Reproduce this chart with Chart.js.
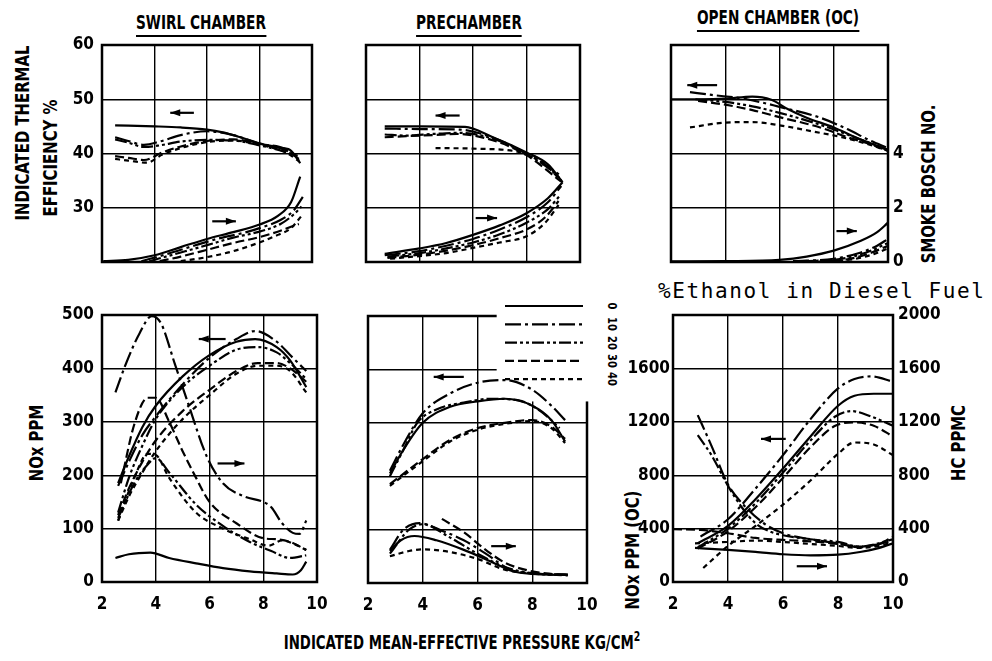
<!DOCTYPE html>
<html>
<head>
<meta charset="utf-8">
<script src="https://cdn.jsdelivr.net/npm/chart.js@4.4.1/dist/chart.umd.min.js"></script>
<style>
  body { margin: 0; background: #fff; width: 992px; height: 661px; position: relative; overflow: hidden;
         font-family: "Liberation Sans Narrow", "DejaVu Sans Condensed", sans-serif; font-weight: bold; color: #000; }
  canvas { position: absolute; }
  .t { position: absolute; white-space: nowrap; line-height: 1; }
  .c { transform: translateX(-50%) scaleX(0.8); }
  .r { transform: translate(-50%, -50%) rotate(-90deg) scaleX(0.87); }
  .r90 { transform: translate(-50%, -50%) rotate(90deg) scaleX(0.85); font-size: 13px; }
  .u { border-bottom: 2px solid #000; padding-bottom: 3px; }
</style>
</head>
<body>
<div class="t c u" style="left:201px;top:13px;font-size:19px">SWIRL CHAMBER</div>
<div class="t c u" style="left:469px;top:13px;font-size:19px">PRECHAMBER</div>
<div class="t c u" style="left:778px;top:8px;font-size:19px">OPEN CHAMBER (OC)</div>
<div class="t r" style="left:22px;top:133px;font-size:19px">INDICATED THERMAL</div>
<div class="t r" style="left:50px;top:158px;font-size:19px">EFFICIENCY %</div>
<div class="t r" style="left:928px;top:184px;font-size:19px">SMOKE BOSCH NO.</div>
<div class="t r" style="left:36px;top:443px;font-size:19px">NOx PPM</div>
<div class="t r" style="left:632px;top:550px;font-size:19px">NOx PPM (OC)</div>
<div class="t r" style="left:958px;top:443px;font-size:19px">HC PPMC</div>
<div class="t" style="left:658px;top:281px;font-family:'DejaVu Sans Mono',monospace;font-weight:normal;font-size:21px;letter-spacing:1.6px">%Ethanol in Diesel Fuel</div>
<div class="t c" style="left:462px;top:629px;font-size:20px;transform:translateX(-50%) scaleX(0.74)">INDICATED MEAN-EFFECTIVE PRESSURE KG/CM<sup style="font-size:14px">2</sup></div>
<div id="legendLabels"></div>

<script>
// ethanol share of each curve, in legend order
const ethanol = [0, 10, 20, 30, 40];

// SWIRL CHAMBER, top: efficiency (%) and smoke (Bosch no.)
const swirlEff = [
  [[2.5,45.2],[4,45.0],[5,44.8],[6,44.4],[6.6,43.9],[7.2,43.1],[8,41.9],[8.6,41.1],[9.1,40.8],[9.35,39.7],[9.55,38.2]],
  [[2.5,43.0],[3,42.3],[3.6,41.6],[4.2,42.2],[5,43.4],[6,44.1],[7,43.4],[8,41.8],[9,40.8],[9.5,38.8]],
  [[2.5,42.6],[3,42.0],[3.6,41.2],[4.2,41.5],[5,42.2],[6,42.5],[7,42.4],[8,41.5],[9,40.3],[9.5,39.5]],
  [[2.5,39.5],[3,39.2],[3.6,38.8],[4.3,40.2],[5,41.3],[6,42.3],[7,42.6],[8,41.8],[9,40.6],[9.5,39.0]],
  [[2.5,39.0],[3,38.7],[3.7,38.3],[4.3,39.8],[5,41.0],[6,42.1],[7,42.4],[8,41.6],[9,40.2],[9.5,38.6]]
];
const swirlSmoke = [
  [[2.05,0.03],[3,0.08],[4,0.25],[5,0.55],[6,0.85],[7,1.1],[8,1.38],[8.7,1.7],[9.2,2.2],[9.55,3.15]],
  [[3.5,0.03],[4.5,0.3],[5.5,0.6],[6.5,0.88],[7.5,1.1],[8,1.25],[8.8,1.55],[9.3,1.9],[9.65,2.4]],
  [[3.8,0.03],[5,0.35],[6,0.62],[7,0.9],[8,1.12],[8.8,1.4],[9.3,1.75],[9.6,2.05]],
  [[4.2,0.03],[5,0.2],[6,0.45],[7,0.7],[8,0.92],[8.8,1.15],[9.2,1.3],[9.5,1.4]],
  [[5,0.03],[6,0.18],[7,0.4],[8,0.72],[8.7,1.0],[9.2,1.25],[9.6,1.7]]
];

// PRECHAMBER, top
const preEff = [
  [[2.7,45.0],[4,45.0],[5.7,44.9],[6.7,43.1],[8,40.2],[8.8,38.0],[9.35,34.7]],
  [[2.7,44.6],[4,44.5],[5.5,44.4],[6.7,43.0],[8,40.0],[8.8,37.6],[9.3,35.8]],
  [[2.7,43.5],[3.5,43.3],[4.5,43.6],[5.5,43.8],[6.7,42.8],[8,39.9],[8.9,37.0],[9.3,35.2]],
  [[2.7,43.0],[3.5,43.2],[4.5,43.4],[5.4,43.6],[6.7,42.5],[8,39.7],[9.3,34.8]],
  [[4.6,41.0],[6,40.9],[7.6,40.4],[8.4,39.2],[9.3,35.0]]
];
const preSmoke = [
  [[2.7,0.3],[4,0.5],[5,0.7],[6,1.0],[7,1.35],[8,1.8],[8.8,2.35],[9.35,2.94]],
  [[2.7,0.25],[4,0.4],[5,0.6],[6,0.85],[7,1.2],[8,1.65],[8.8,2.2],[9.3,2.8]],
  [[2.8,0.2],[4,0.33],[5,0.5],[6,0.72],[7,1.02],[8,1.45],[8.8,1.95],[9.25,2.45]],
  [[2.8,0.15],[4,0.27],[5,0.42],[6,0.62],[7,0.88],[8,1.2],[8.7,1.65],[9.2,2.25]],
  [[2.9,0.12],[4,0.22],[5,0.33],[6,0.52],[7,0.72],[8,0.95],[8.7,1.45],[9.2,2.1]]
];

// OPEN CHAMBER (OC), top
const ocEff = [
  [[2,50.0],[3,50.0],[4,50.1],[5,50.5],[5.7,49.9],[6.3,48.2],[7,46.6],[8,44.8],[8.8,43.0],[9.5,41.6],[10,40.6]],
  [[2.7,51.3],[3.5,50.8],[4.8,50.0],[6,48.6],[7.5,46.6],[8.5,44.5],[9.3,42.5],[10,41.0]],
  [[2.9,50.0],[4,49.5],[5,48.7],[6,47.5],[7.5,45.3],[8.5,43.5],[9.3,42.0],[10,40.7]],
  [[3,49.7],[4,49.0],[5,48.0],[6,46.7],[7.5,44.8],[8.5,43.0],[9.3,41.8],[10,40.5]],
  [[2.7,44.8],[4,45.7],[5,45.8],[6,45.2],[7.3,44.0],[8.3,43.0],[9.2,41.8],[10,40.5]]
];
const ocSmoke = [
  [[2,0.02],[4,0.03],[6,0.08],[7,0.2],[8,0.42],[9,0.78],[9.6,1.1],[10,1.45]],
  [[6.5,0.03],[8,0.12],[9,0.35],[9.6,0.6],[10,0.85]],
  [[7,0.03],[8.3,0.12],[9.2,0.35],[10,0.7]],
  [[7,0.02],[8.5,0.1],[9.4,0.35],[10,0.6]],
  [[7.5,0.02],[8.7,0.1],[9.5,0.3],[10,0.5]]
];

// SWIRL CHAMBER, bottom: NOx and HC (ppm)
const swirlNox = [
  [[2.6,185],[3,235],[3.5,290],[4,330],[5,385],[6,425],[7,450],[7.7,455],[8.5,440],[9,415],[9.6,365]],
  [[2.6,180],[3,225],[3.5,275],[4,310],[5,370],[6,420],[7,455],[7.7,470],[8.5,450],[9,425],[9.6,395]],
  [[2.6,130],[3,195],[3.5,255],[4,305],[5,365],[6,405],[7,435],[7.8,440],[8.5,430],[9,410],[9.6,380]],
  [[2.6,125],[3,175],[3.5,225],[4,265],[5,320],[6,360],[7,395],[7.8,410],[8.5,410],[9,400],[9.6,375]],
  [[2.6,115],[3,160],[3.5,205],[4,245],[5,305],[6,350],[7,390],[7.8,405],[8.5,405],[9,395],[9.6,355]]
];
const swirlHc = [
  [[2.5,45],[3,52],[3.8,55],[4.5,45],[5.5,35],[6.5,26],[7.5,20],[8.5,16],[9.1,14],[9.4,22],[9.6,38]],
  [[2.5,355],[2.9,410],[3.4,466],[3.85,498],[4.2,484],[4.7,410],[5.2,335],[5.9,235],[6.5,185],[7.3,160],[8,150],[8.3,140],[8.7,110],[9.1,92],[9.35,90],[9.6,115]],
  [[2.6,120],[3.2,185],[3.7,220],[4,232],[4.5,205],[5.5,145],[6.5,105],[7.5,75],[8.3,58],[9,45],[9.6,50]],
  [[2.7,185],[3.2,295],[3.7,345],[4,345],[4.5,300],[5,245],[5.5,195],[6,150],[7,110],[8,82],[8.5,80],[9,75],[9.6,60]],
  [[2.6,115],[3.2,195],[3.7,240],[4,238],[4.5,195],[5.5,130],[6.5,100],[7.5,80],[8.2,68],[8.7,78],[9.2,70],[9.6,60]]
];

// PRECHAMBER, bottom
const preNox = [
  [[2.8,205],[3.3,250],[4,300],[5,330],[6,340],[7,345],[8,332],[8.7,305],[9.2,265]],
  [[2.8,210],[3.3,260],[4,318],[5,355],[6,375],[7,380],[8,362],[8.7,332],[9.2,305]],
  [[2.8,200],[3.3,250],[3.8,300],[4.5,325],[5.5,338],[6.5,345],[7.5,342],[8.3,322],[9,290]],
  [[2.8,185],[4,232],[5,268],[6,290],[7,300],[8,305],[8.7,293],[9.2,270]],
  [[2.8,182],[4,228],[5,265],[6,287],[7,298],[8,303],[8.7,290],[9.2,262]]
];
const preHc = [
  [[2.8,60],[3.2,80],[3.7,88],[4.5,80],[5.5,62],[6.5,40],[7.3,22],[8,17],[9.3,15]],
  [[2.8,62],[3.3,100],[3.9,112],[4.6,100],[5.5,80],[6.3,55],[7.2,25],[8,18],[9.3,16]],
  [[2.8,55],[3.5,100],[4,110],[5,85],[6,55],[7,30],[8,18],[9.3,15]],
  [[4.7,120],[5.5,95],[6.3,62],[7,38],[7.8,24],[8.5,18],[9.3,15]],
  [[2.8,50],[3.5,60],[4,63],[5,58],[6,45],[7,25],[8,18],[9.3,14]]
];

// OPEN CHAMBER (OC), bottom
const ocNox = [
  [[2.9,290],[4,420],[5,620],[6,850],[7,1090],[8,1320],[8.6,1395],[9.3,1410],[10,1410]],
  [[3,340],[4,470],[5,700],[6,950],[7,1220],[8,1450],[8.6,1520],[9.2,1540],[10,1500]],
  [[2.9,260],[4,400],[5,590],[6,820],[7,1060],[7.9,1240],[8.5,1280],[9.2,1240],[10,1170]],
  [[2.9,250],[4,380],[5,560],[6,780],[7,1010],[7.9,1170],[8.6,1195],[9.3,1170],[10,1090]],
  [[3.1,105],[4,270],[5,420],[6,580],[7,760],[8,960],[8.6,1045],[9.3,1030],[10,950]]
];
const ocHc = [
  [[2.8,255],[4,240],[5,225],[6,208],[7,200],[8,205],[8.8,225],[9.4,250],[10,290]],
  [[2.9,1250],[3.4,1020],[4,730],[4.6,570],[5.3,440],[6,365],[7,320],[8,290],[8.8,260],[9.5,285],[10,340]],
  [[2.9,1100],[3.4,950],[4,720],[4.5,560],[5,440],[5.5,380],[6,350],[7,320],[8,300],[8.8,265],[10,320]],
  [[2,395],[3,390],[4,365],[5,330],[6,315],[7,305],[8,285],[8.8,265],[9.5,285],[10,310]],
  [[2.8,290],[4,300],[5,310],[6,300],[7,285],[8,270],[8.7,255],[9.5,270],[10,300]]
];

// direction arrows: [x from, x to, y on left axis, -1 = left / 1 = right]
const swirlTopArrows = [[4.6,5.5,47.5,-1],[6.2,7.1,27.5,1]];
const preTopArrows = [[4.6,5.5,47.0,-1],[6.1,6.9,28.1,1]];
const ocTopArrows = [[2.6,3.7,52.6,-1],[8.1,8.85,25.7,1]];
const swirlBotArrows = [[5.6,6.6,455,-1],[6.3,7.3,222,1]];
const preBotArrows = [[4.4,5.5,386,-1],[6.5,7.4,69,1]];
const ocBotArrows = [[5.2,6.1,1072,-1],[6.5,7.6,118,1]];

const dashes = [[], [16,4,3,4], [12,3,3,3,3,3], [9,4], [5,4]];
const PAD_L = 50, PAD_R = 50, PAD_T = 22, PAD_B = 35;
const tickFont = { family: '"Liberation Sans Narrow", "DejaVu Sans Condensed", sans-serif', size: 17, weight: 'bold' };

const framePlugin = {
  id: 'frame',
  beforeDatasetsDraw(chart, args, opts) {
    const { ctx, chartArea: a, scales } = chart;
    ctx.save();
    ctx.strokeStyle = '#000';
    ctx.lineWidth = 2.5;
    ctx.strokeRect(a.left, a.top, a.right - a.left, a.bottom - a.top);
    if (opts.legend) {
      // legend box sits over the upper right corner
      const gx = scales.x.getPixelForValue(6.7);
      const gy = scales.y.getPixelForValue(340);
      ctx.fillStyle = '#fff';
      ctx.fillRect(gx, a.top - 4, a.right + 4 - gx, gy - a.top + 4);
      ctx.lineWidth = 2.2;
      ethanol.forEach((e, i) => {
        const ly = a.top - 10 + i * 18.3;
        ctx.setLineDash(dashes[i]);
        ctx.beginPath();
        ctx.moveTo(a.right - 82, ly);
        ctx.lineTo(a.right - 4, ly);
        ctx.stroke();
      });
    }
    ctx.restore();
  }
};

const arrowPlugin = {
  id: 'arrows',
  afterDatasetsDraw(chart, args, opts) {
    const { ctx, scales: { x, y } } = chart;
    ctx.save();
    ctx.strokeStyle = '#000';
    ctx.fillStyle = '#000';
    ctx.lineWidth = 2.2;
    (opts.list || []).forEach(([x0, x1, v, dir]) => {
      const p0 = x.getPixelForValue(x0), p1 = x.getPixelForValue(x1), py = y.getPixelForValue(v);
      ctx.beginPath();
      ctx.moveTo(p0, py);
      ctx.lineTo(p1, py);
      ctx.stroke();
      const tip = dir < 0 ? p0 : p1;
      ctx.beginPath();
      ctx.moveTo(tip, py);
      ctx.lineTo(tip - dir * 10, py - 3.5);
      ctx.lineTo(tip - dir * 10, py + 3.5);
      ctx.closePath();
      ctx.fill();
    });
    ctx.restore();
  }
};

const panels = [
  { L:102, T:45, W:210, H:217, y:[20,60,10], y2:[0,8,2], groups:[[swirlEff,'y'],[swirlSmoke,'y2']], arrows:swirlTopArrows,
    left: v => v === 20 ? '' : v, right: null, xt: false },
  { L:366, T:45, W:214, H:217, y:[20,60,10], y2:[0,8,2], groups:[[preEff,'y'],[preSmoke,'y2']], arrows:preTopArrows,
    left: null, right: null, xt: false },
  { L:671, T:45, W:217, H:217, y:[20,60,10], y2:[0,8,2], groups:[[ocEff,'y'],[ocSmoke,'y2']], arrows:ocTopArrows,
    left: null, right: v => v <= 4 ? v : '', xt: false },
  { L:102, T:315, W:215, H:267, y:[0,500,100], y2:[0,500,100], groups:[[swirlNox,'y'],[swirlHc,'y']], arrows:swirlBotArrows,
    left: v => v, right: null, xt: true },
  { L:368, T:316, W:219, H:267, y:[0,500,100], y2:[0,500,100], groups:[[preNox,'y'],[preHc,'y']], arrows:preBotArrows,
    left: null, right: null, xt: true, legend: true },
  { L:673, T:315, W:220, H:267, y:[0,2000,400], y2:[0,2000,400], groups:[[ocNox,'y'],[ocHc,'y2']], arrows:ocBotArrows,
    left: v => v === 2000 ? '' : v, right: v => v, xt: true }
];

panels.forEach(p => {
  const cv = document.createElement('canvas');
  cv.width = p.W + PAD_L + PAD_R;
  cv.height = p.H + PAD_T + PAD_B;
  cv.style.left = (p.L - PAD_L) + 'px';
  cv.style.top = (p.T - PAD_T) + 'px';
  document.body.appendChild(cv);

  const datasets = [];
  p.groups.forEach(([curves, axis]) => {
    curves.forEach((pts, i) => datasets.push({
      label: ethanol[i] + '%',
      data: pts.map(([x, y]) => ({ x, y })),
      yAxisID: axis,
      borderColor: '#000',
      borderWidth: 2.2,
      borderDash: dashes[i],
      pointRadius: 0,
      cubicInterpolationMode: 'monotone',
      fill: false
    }));
  });

  new Chart(cv, {
    type: 'line',
    data: { datasets },
    options: {
      responsive: false,
      animation: false,
      events: [],
      layout: { padding: { top: PAD_T, left: 0, right: 0, bottom: 0 } },
      plugins: {
        legend: { display: false },
        tooltip: { enabled: false },
        arrows: { list: p.arrows },
        frame: { legend: !!p.legend }
      },
      scales: {
        x: {
          type: 'linear', min: 2, max: 10,
          ticks: { stepSize: 2, display: p.xt, padding: 12, color: '#000', font: tickFont },
          grid: { color: '#000', lineWidth: 1.4, drawTicks: false },
          border: { display: false },
          afterFit: s => { s.height = PAD_B; }
        },
        y: {
          position: 'left', min: p.y[0], max: p.y[1],
          ticks: { stepSize: p.y[2], display: !!p.left, callback: p.left || (v => v), padding: p.y[1] === 2000 ? 3 : 8, color: '#000', font: tickFont },
          grid: { color: '#000', lineWidth: 1.4, drawTicks: false },
          border: { display: false },
          afterFit: s => { s.width = PAD_L; }
        },
        y2: {
          position: 'right', min: p.y2[0], max: p.y2[1],
          ticks: { stepSize: p.y2[2], display: !!p.right, callback: p.right || (v => v), padding: 5, color: '#000', font: tickFont },
          grid: { drawOnChartArea: false, drawTicks: false },
          border: { display: false },
          afterFit: s => { s.width = PAD_R; }
        }
      }
    },
    plugins: [framePlugin, arrowPlugin]
  });
});

// legend labels beside the legend lines of the PRECHAMBER panel
const holder = document.getElementById('legendLabels');
ethanol.forEach((e, i) => {
  const d = document.createElement('div');
  d.className = 't r90';
  d.style.left = '612px';
  d.style.top = (306 + i * 18.3) + 'px';
  d.textContent = e;
  holder.appendChild(d);
});
</script>
</body>
</html>
